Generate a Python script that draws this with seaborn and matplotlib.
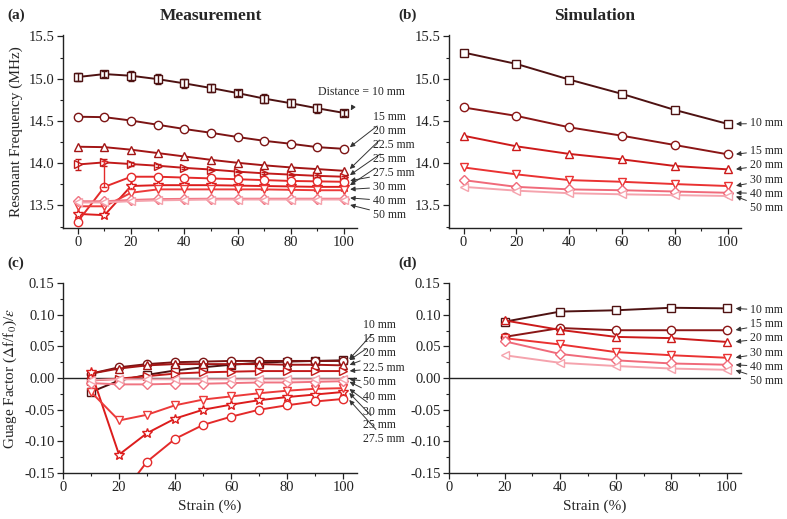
import numpy as np
import seaborn as sns
import matplotlib.pyplot as plt
from matplotlib.ticker import MultipleLocator

sns.set_style("ticks")
plt.rcParams["font.family"] = ["Liberation Serif", "DejaVu Serif"]
plt.rcParams["mathtext.fontset"] = "stix"

# ---- data ---------------------------------------------------------------
strain_meas = [0, 10, 20, 30, 40, 50, 60, 70, 80, 90, 100]
strain_sim = [0, 20, 40, 60, 80, 100]
strain_gf_meas = [10, 20, 30, 40, 50, 60, 70, 80, 90, 100]
strain_gf_sim = [20, 40, 60, 80, 100]

meas_labels = ["10 mm", "15 mm", "20 mm", "22.5 mm", "25 mm", "27.5 mm", "30 mm", "40 mm", "50 mm"]
meas_markers = ["s", "o", "^", ">", "*", "o", "v", "D", "<"]
meas_colors = ["#4e1212", "#7c1414", "#a31515", "#c21a1a", "#dc1c1c", "#e42a2a", "#ec3a3a", "#f07482", "#f5a3ad"]

freq_meas = {
    "10 mm": [15.02, 15.055, 15.035, 14.995, 14.945, 14.89, 14.83, 14.765, 14.71, 14.65, 14.595],
    "15 mm": [14.55, 14.545, 14.505, 14.455, 14.405, 14.36, 14.31, 14.265, 14.23, 14.19, 14.17],
    "20 mm": [14.195, 14.19, 14.16, 14.12, 14.08, 14.04, 14.005, 13.975, 13.95, 13.93, 13.91],
    "22.5 mm": [13.985, 14.01, 13.99, 13.97, 13.945, 13.925, 13.9, 13.88, 13.865, 13.85, 13.84],
    "25 mm": [13.40, 13.385, 13.73, 13.74, 13.74, 13.74, 13.735, 13.73, 13.725, 13.72, 13.72],
    "27.5 mm": [13.31, 13.72, 13.84, 13.84, 13.83, 13.82, 13.81, 13.80, 13.79, 13.785, 13.78],
    "30 mm": [13.49, 13.49, 13.65, 13.69, 13.69, 13.69, 13.69, 13.69, 13.685, 13.68, 13.68],
    "40 mm": [13.55, 13.55, 13.565, 13.575, 13.578, 13.58, 13.58, 13.58, 13.58, 13.58, 13.58],
    "50 mm": [13.535, 13.535, 13.55, 13.56, 13.565, 13.57, 13.57, 13.57, 13.57, 13.57, 13.57],
}
freq_err_10mm = [0.05, 0.04, 0.06, 0.06, 0.05, 0.05, 0.04, 0.05, 0.05, 0.05, 0.04]
freq_err_22mm = [0.06, 0.04, 0.02, 0.02, 0.01, 0.01, 0.01, 0.01, 0.01, 0.01, 0.01]

sim_labels = ["10 mm", "15 mm", "20 mm", "30 mm", "40 mm", "50 mm"]
sim_markers = ["s", "o", "^", "v", "D", "<"]
sim_colors = ["#4e1212", "#8a1616", "#cc1a1a", "#ea3232", "#f06a7a", "#f5a3ad"]

freq_sim = {
    "10 mm": [15.31, 15.175, 14.99, 14.82, 14.63, 14.465],
    "15 mm": [14.66, 14.56, 14.425, 14.325, 14.215, 14.105],
    "20 mm": [14.325, 14.2, 14.11, 14.045, 13.967, 13.927],
    "30 mm": [13.95, 13.868, 13.80, 13.78, 13.753, 13.73],
    "40 mm": [13.80, 13.72, 13.69, 13.68, 13.665, 13.65],
    "50 mm": [13.72, 13.675, 13.645, 13.632, 13.622, 13.612],
}

gf_meas = {
    "10 mm": [-0.022, -0.004, 0.005, 0.012, 0.017, 0.021, 0.024, 0.026, 0.027, 0.028],
    "15 mm": [0.007, 0.017, 0.022, 0.025, 0.026, 0.027, 0.027, 0.027, 0.027, 0.027],
    "20 mm": [0.007, 0.015, 0.020, 0.022, 0.022, 0.022, 0.022, 0.021, 0.021, 0.020],
    "22.5 mm": [-0.004, -0.001, 0.003, 0.007, 0.009, 0.010, 0.011, 0.011, 0.011, 0.011],
    "25 mm": [0.010, -0.121, -0.087, -0.064, -0.050, -0.042, -0.035, -0.030, -0.026, -0.022],
    "27.5 mm": [np.nan, -0.19, -0.132, -0.096, -0.074, -0.061, -0.050, -0.043, -0.037, -0.033],
    "30 mm": [-0.022, -0.067, -0.058, -0.043, -0.034, -0.029, -0.024, -0.020, -0.017, -0.016],
    "40 mm": [-0.008, -0.010, -0.010, -0.009, -0.009, -0.008, -0.007, -0.007, -0.006, -0.005],
    "50 mm": [-0.003, -0.002, -0.002, -0.002, -0.002, -0.002, -0.002, -0.002, -0.002, -0.002],
}

gf_sim = {
    "10 mm": [0.089, 0.105, 0.107, 0.111, 0.110],
    "15 mm": [0.065, 0.079, 0.0755, 0.0755, 0.0755],
    "20 mm": [0.091, 0.076, 0.065, 0.063, 0.057],
    "30 mm": [0.063, 0.053, 0.041, 0.036, 0.032],
    "40 mm": [0.058, 0.038, 0.028, 0.023, 0.021],
    "50 mm": [0.036, 0.024, 0.019, 0.015, 0.013],
}

# label text heights (data units) for the arrow annotations at the right of each panel
label_y_a = [14.85, 14.55, 14.384, 14.218, 14.052, 13.886, 13.72, 13.554, 13.389]
label_order_c = ["10 mm", "15 mm", "20 mm", "22.5 mm", "50 mm", "40 mm", "30 mm", "25 mm", "27.5 mm"]
label_y_c = [0.083, 0.061, 0.039, 0.016, -0.007, -0.030, -0.053, -0.074, -0.096]
label_y_b = [14.47, 14.15, 13.98, 13.80, 13.64, 13.47]
label_y_d = [0.107, 0.085, 0.063, 0.040, 0.018, -0.004]


def style_axes(ax, xmajor, xminor, ymajor, yminor):
    sns.despine(ax=ax)
    ax.xaxis.set_major_locator(MultipleLocator(xmajor))
    ax.xaxis.set_minor_locator(MultipleLocator(xminor))
    ax.yaxis.set_major_locator(MultipleLocator(ymajor))
    ax.yaxis.set_minor_locator(MultipleLocator(yminor))
    ax.tick_params(which="major", direction="out", length=4, width=0.9, labelsize=10.5,
                   colors="#222", pad=2)
    ax.tick_params(which="minor", direction="out", length=2.2, width=0.8, colors="#222")
    for s in ["left", "bottom"]:
        ax.spines[s].set_linewidth(1.0)
        ax.spines[s].set_color("#222")


def draw_series(ax, x, y, color, marker):
    ms = 7.5 if marker == "*" else (5 if marker == "D" else 6)
    sns.lineplot(x=x, y=y, ax=ax, color=color, marker=marker, markersize=ms,
                 markerfacecolor="white", markeredgecolor=color, markeredgewidth=1.0,
                 linewidth=1.4, sort=False)


def arrow_label(ax, text, tip, text_xy, size=8.5):
    ax.annotate(text, xy=tip, xytext=text_xy, xycoords="data", textcoords="data",
                fontsize=size, va="center", ha="left", annotation_clip=False,
                arrowprops=dict(arrowstyle="-|>", color="#333", lw=0.7,
                                mutation_scale=7, shrinkA=0, shrinkB=1))


fig = plt.figure(figsize=(7.87, 5.19), dpi=100)
ax_a = fig.add_axes([0.080, 0.561, 0.374, 0.372])
ax_b = fig.add_axes([0.5705, 0.561, 0.371, 0.372])
ax_c = fig.add_axes([0.080, 0.0886, 0.374, 0.366])
ax_d = fig.add_axes([0.5705, 0.0886, 0.371, 0.366])

# (a) measurement frequency
for lab, mk, col in zip(meas_labels, meas_markers, meas_colors):
    draw_series(ax_a, strain_meas, freq_meas[lab], col, mk)
ax_a.errorbar(strain_meas, freq_meas["10 mm"], yerr=freq_err_10mm, fmt="none",
              ecolor=meas_colors[0], elinewidth=1.0, capsize=2)
ax_a.errorbar(strain_meas, freq_meas["22.5 mm"], yerr=freq_err_22mm, fmt="none",
              ecolor=meas_colors[3], elinewidth=1.0, capsize=2)
ax_a.errorbar([strain_meas[1]], [freq_meas["27.5 mm"][1]], yerr=[[0.0], [0.31]], fmt="none",
              ecolor=meas_colors[5], elinewidth=1.0, capsize=2)
ax_a.set_xlim(-5.6, 105)
ax_a.set_ylim(13.235, 15.52)
style_axes(ax_a, 20, 10, 0.5, 0.25)
ax_a.set_ylabel("Resonant Frequency (MHz)", fontsize=11)
ax_a.set_xlabel("")
for lab, ly in zip(meas_labels, label_y_a):
    tip = (101.8, freq_meas[lab][-1] + (0.01 if lab != "50 mm" else -0.06))
    if lab == "10 mm":
        ax_a.annotate("Distance = 10 mm", xy=(102.3, 14.61), xytext=(106.5, 14.84),
                      fontsize=8.5, ha="center", va="center", annotation_clip=False,
                      arrowprops=dict(arrowstyle="-|>", color="#333", lw=0.7,
                                      mutation_scale=7, shrinkA=4, shrinkB=1))
    else:
        arrow_label(ax_a, lab, tip, (110.8, ly))

# (b) simulation frequency
for lab, mk, col in zip(sim_labels, sim_markers, sim_colors):
    draw_series(ax_b, strain_sim, freq_sim[lab], col, mk)
ax_b.set_xlim(-5.5, 105)
ax_b.set_ylim(13.235, 15.52)
style_axes(ax_b, 20, 10, 0.5, 0.25)
ax_b.set_ylabel("")
for lab, ly in zip(sim_labels, label_y_b):
    arrow_label(ax_b, lab, (102.6, freq_sim[lab][-1]), (108.3, ly))

# (c) measurement gauge factor
for lab, mk, col in zip(meas_labels, meas_markers, meas_colors):
    draw_series(ax_c, strain_gf_meas, gf_meas[lab], col, mk)
ax_c.axhline(0, color="#222", lw=1.0, zorder=0)
ax_c.set_xlim(0, 105)
ax_c.set_ylim(-0.15, 0.15)
style_axes(ax_c, 20, 10, 0.05, 0.025)
ax_c.yaxis.set_major_formatter(plt.FuncFormatter(lambda v, p: f"{v:.2f}"))
ax_c.set_ylabel(r"Guage Factor ($\Delta$f/f$_0$)/$\varepsilon$", fontsize=11)
ax_c.set_xlabel("Strain (%)", fontsize=11)
for lab, ly in zip(label_order_c, label_y_c):
    arrow_label(ax_c, lab, (101.8, gf_meas[lab][-1]), (107.2, ly))

# (d) simulation gauge factor
for lab, mk, col in zip(sim_labels, sim_markers, sim_colors):
    draw_series(ax_d, strain_gf_sim, gf_sim[lab], col, mk)
ax_d.axhline(0, color="#222", lw=1.0, zorder=0)
ax_d.set_xlim(0, 105)
ax_d.set_ylim(-0.15, 0.15)
style_axes(ax_d, 20, 10, 0.05, 0.025)
ax_d.yaxis.set_major_formatter(plt.FuncFormatter(lambda v, p: f"{v:.2f}"))
ax_d.set_ylabel("")
ax_d.set_xlabel("Strain (%)", fontsize=11)
for lab, ly in zip(sim_labels, label_y_d):
    arrow_label(ax_d, lab, (102.6, gf_sim[lab][-1]), (108.3, ly))

# panel letters and column titles
for txt, x, y in [("(a)", 0.010, 0.970), ("(b)", 0.506, 0.970), ("(c)", 0.010, 0.492), ("(d)", 0.506, 0.492)]:
    fig.text(x, y, txt, fontsize=11, fontweight="bold", va="center", ha="left")
fig.text(0.268, 0.970, "Measurement", fontsize=12.5, fontweight="bold", ha="center", va="center")
fig.text(0.755, 0.970, "Simulation", fontsize=12.5, fontweight="bold", ha="center", va="center")

fig.savefig("out.png", dpi=100)
